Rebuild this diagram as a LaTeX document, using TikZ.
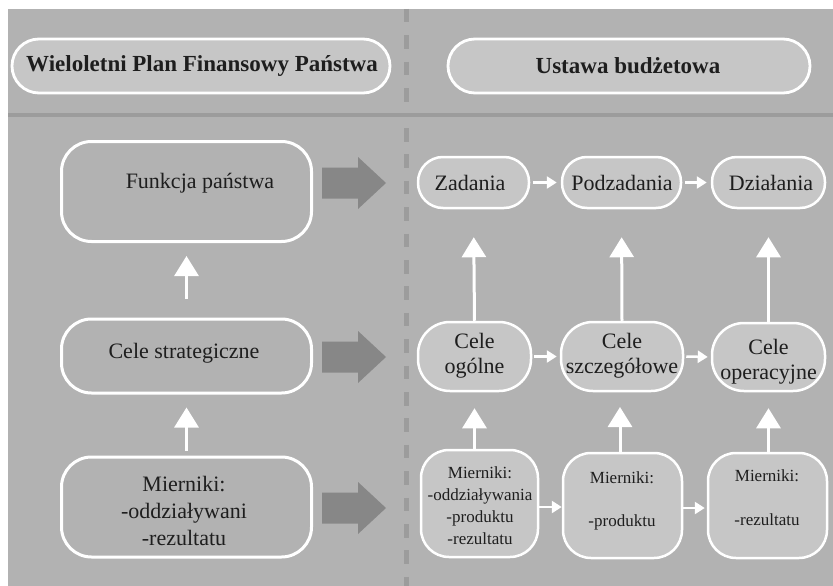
\documentclass[tikz,border=0pt]{standalone}
\usepackage{fontspec}
\setmainfont{Liberation Serif}
\usetikzlibrary{arrows.meta}
\definecolor{bgg}{HTML}{B2B2B2}
\definecolor{pillg}{HTML}{C6C6C6}
\definecolor{sepg}{HTML}{9C9C9C}
\definecolor{blockg}{HTML}{878787}
\definecolor{txt}{HTML}{1E1E1E}
\tikzset{
  hpill/.style={draw=white, line width=2.8pt, fill=pillg, rounded corners=27pt, inner sep=0pt},
  lbox/.style={draw=white, line width=3pt, rounded corners=30pt, inner sep=0pt},
  rpill/.style={draw=white, line width=2.5pt, fill=pillg, rounded corners=25pt, inner sep=0pt},
  rcele/.style={draw=white, line width=2.5pt, fill=pillg, rounded corners=32pt, inner sep=0pt},
  rmier/.style={draw=white, line width=2.5pt, fill=pillg, rounded corners=28pt, inner sep=0pt},
  htxt/.style={font=\fontsize{23}{26}\selectfont\bfseries, text=txt, inner sep=0pt},
  ltxt/.style={font=\fontsize{22}{27}\selectfont, text=txt, inner sep=0pt, align=center},
  rtxt/.style={font=\fontsize{22}{25}\selectfont, text=txt, inner sep=0pt, align=center},
  stxt/.style={font=\fontsize{17}{22}\selectfont, text=txt, inner sep=0pt, align=center},
  uparrow/.style={draw=white, line width=3pt, -{Triangle[width=24pt,length=20pt]}},
  sarrow/.style={draw=white, line width=2.5pt, -{Triangle[width=12pt,length=10pt]}},
  pics/blockarr/.style={code={
    \fill[blockg] (-32,-15.5) -- (4,-15.5) -- (4,-26) -- (32,0) -- (4,26) -- (4,15.5) -- (-32,15.5) -- cycle;
  }},
}
\begin{document}
\begin{tikzpicture}[x=1pt,y=-1pt]
\useasboundingbox (0,0) rectangle (833,586);
\fill[white] (0,0) rectangle (833,586);
\fill[bgg] (8,9) rectangle (833,586);
% separators
\draw[sepg, line width=4.5pt, dash pattern=on 13.5pt off 13pt] (406.5,9) -- (406.5,113);
\draw[sepg, line width=4.5pt, dash pattern=on 13.5pt off 12.9pt] (406.5,128) -- (406.5,586);
\draw[sepg, line width=4pt] (8,115) -- (833,115);

% headers
\node[hpill, minimum width=378pt, minimum height=54pt] (hl) at (201,66) {};
\node[htxt] (hlt) at (202,66) {Wieloletni Plan Finansowy Państwa};
\node[hpill, minimum width=362pt, minimum height=54pt] (hr) at (629,66) {};
\node[htxt] (hrt) at (628,66) {Ustawa budżetowa};

% left column
\node[lbox, minimum width=250pt, minimum height=100pt] (fp) at (186.5,191.5) {};
\node[ltxt] (fpt) at (200,183) {Funkcja państwa};
\node[lbox, minimum width=250pt, minimum height=74pt] (cs) at (186.5,356) {};
\node[ltxt] (cst) at (184,353) {Cele strategiczne};
\node[lbox, minimum width=250pt, minimum height=100pt] (ml) at (186.5,507) {};
\node[ltxt] (mlt) at (184,511) {Mierniki:\\-oddziaływani\\-rezultatu};

\draw[uparrow, shorten <=19pt, shorten >=13pt] (cs.north) -- (fp.south);
\draw[uparrow, shorten <=5pt, shorten >=13pt] (ml.north) -- (cs.south);

% block arrows
\pic (ba1) at (354,183) {blockarr};
\pic (ba2) at (354,357) {blockarr};
\pic (ba3) at (354,508) {blockarr};

% right top row
\node[rpill, minimum width=111pt, minimum height=51pt] (zad) at (473.5,182.5) {};
\node[rtxt] (zadt) at (470,183) {Zadania};
\node[rpill, minimum width=119pt, minimum height=51pt] (pod) at (621.5,182.5) {};
\node[rtxt] (podt) at (622,183) {Podzadania};
\node[rpill, minimum width=113pt, minimum height=51pt] (dzi) at (768.5,182.5) {};
\node[rtxt] (dzit) at (771,183) {Działania};

% cele row
\node[rcele, minimum width=113pt, minimum height=69pt] (co) at (474.5,356.5) {};
\node[rtxt] (cot) at (474.5,356) {Cele\\ogólne};
\node[rcele, minimum width=122pt, minimum height=69pt] (csz) at (622,356.5) {};
\node[rtxt] (cszt) at (622,356) {Cele\\szczegółowe};
\node[rcele, minimum width=113pt, minimum height=68pt] (cop) at (768.5,357) {};
\node[rtxt] (copt) at (768.5,362) {Cele\\operacyjne};

% mierniki row
\node[rmier, minimum width=117pt, minimum height=107pt] (m1) at (479.5,503.5) {};
\node[stxt] (m1t) at (480,506) {Mierniki:\\-oddziaływania\\-produktu\\-rezultatu};
\node[rmier, minimum width=119pt, minimum height=105pt] (m2) at (622.5,505.5) {};
\node[stxt] (m2a) at (622,478) {Mierniki:};
\node[stxt] (m2b) at (622,522) {-produktu};
\node[rmier, minimum width=119pt, minimum height=105pt] (m3) at (767.5,505.5) {};
\node[stxt] (m3a) at (767,476) {Mierniki:};
\node[stxt] (m3b) at (767,520) {-rezultatu};

% horizontal small arrows
\draw[sarrow, shorten <=3pt, shorten >=4pt] (zad.east) -- (pod.west);
\draw[sarrow, shorten <=3pt, shorten >=4pt] (pod.east) -- (dzi.west);
\draw[sarrow, shorten <=2pt, shorten >=3pt] (co.east) -- (csz.west);
\draw[sarrow, shorten <=2pt, shorten >=3pt] (csz.east) -- (cop.west);
\draw[sarrow] (m1.east |- 0,507) -- (m2.west |- 0,507);
\draw[sarrow, shorten >=2pt] (m2.east |- 0,508) -- (m3.west |- 0,508);

% vertical up arrows right
\draw[uparrow, shorten >=28pt] (co.north) -- (zad.south);
\draw[uparrow, shorten >=28pt] (csz.north) -- (pod.south);
\draw[uparrow, shorten >=28pt] (cop.north) -- (dzi.south);
\draw[uparrow, shorten >=16pt] (m1.north -| co.north) -- (co.south);
\draw[uparrow, shorten >=16pt] (m2.north -| 620,0) -- (620,391);
\draw[uparrow, shorten >=16pt] (m3.north -| cop.north) -- (cop.south);
\end{tikzpicture}
\end{document}
